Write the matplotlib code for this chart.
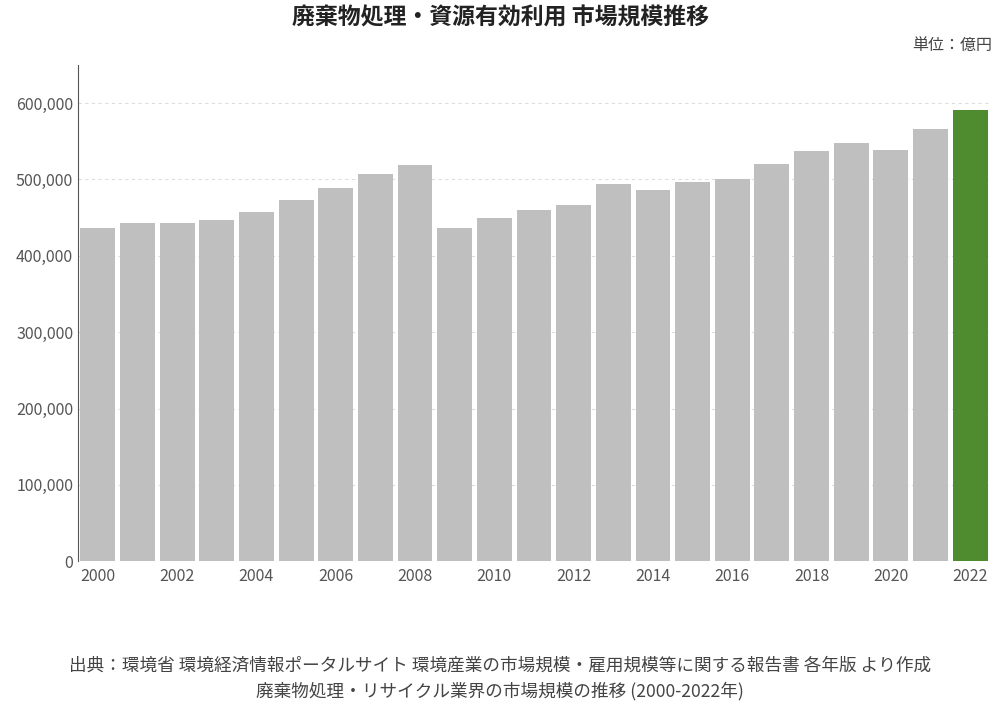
import matplotlib.pyplot as plt

plt.rcParams['font.family'] = 'Noto Sans CJK JP'

years = list(range(2000, 2023))
values = [436000, 443000, 443000, 447000, 457000, 473000, 489000, 507000, 519000,
          436000, 449000, 460000, 466000, 494000, 486000, 497000, 500000, 520000,
          537000, 548000, 538000, 566000, 591000]
tick_years = list(range(2000, 2023, 2))
y_ticks = [0, 100000, 200000, 300000, 400000, 500000, 600000]

fig = plt.figure(figsize=(10, 7.06), dpi=100)
ax = fig.add_axes([0.078, 0.205, 0.912, 0.703])

colors = ['#bfbfbf'] * (len(years) - 1) + ['#4e8c2f']
ax.bar(years, values, width=0.88, color=colors, zorder=2)

ax.set_xlim(years[0] - 0.5, years[-1] + 0.5)
ax.set_ylim(0, 650000)
ax.set_yticks(y_ticks)
ax.set_yticklabels([f'{v:,}' for v in y_ticks])
ax.set_xticks(tick_years)
ax.tick_params(axis='both', length=0, labelsize=11.5, colors='#555555')
ax.tick_params(axis='x', pad=5)

for v in y_ticks[1:]:
    ax.axhline(v, color='#dddddd', lw=0.8, ls=(0, (3, 3)), zorder=1)

for s in ['top', 'right', 'bottom']:
    ax.spines[s].set_visible(False)
ax.spines['left'].set_color('#555555')

fig.text(0.5, 0.975, '廃棄物処理・資源有効利用 市場規模推移', ha='center', va='center',
         fontsize=16.5, fontweight='bold', color='#222222')
fig.text(0.992, 0.935, '単位：億円', ha='right', va='center', fontsize=11.5, color='#444444')
fig.text(0.5, 0.057, '出典：環境省 環境経済情報ポータルサイト 環境産業の市場規模・雇用規模等に関する報告書 各年版 より作成',
         ha='center', va='center', fontsize=12.7, color='#444444')
fig.text(0.5, 0.021, '廃棄物処理・リサイクル業界の市場規模の推移 (2000-2022年)',
         ha='center', va='center', fontsize=12.7, color='#444444')

fig.savefig('out.png', dpi=100)
